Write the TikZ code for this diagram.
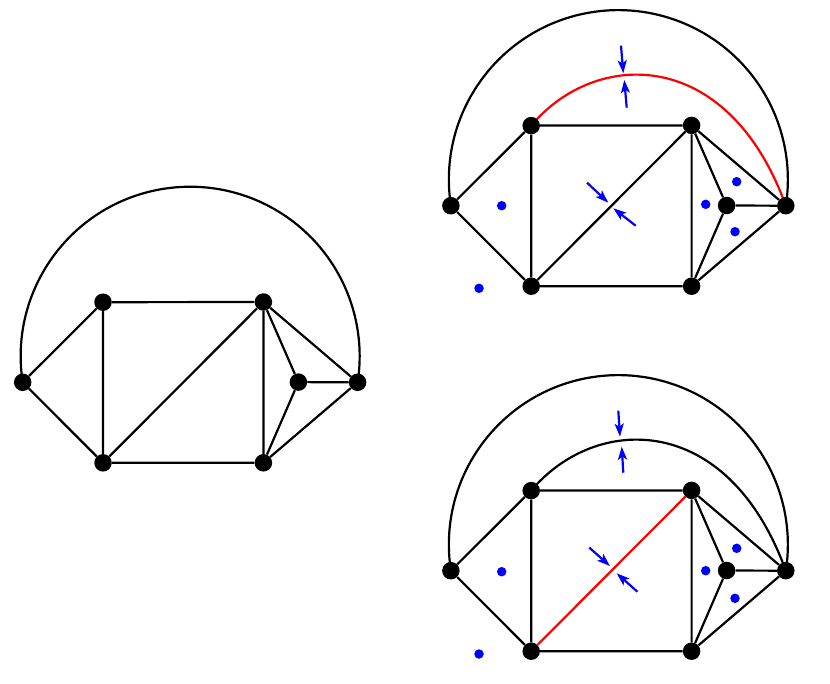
\documentclass[tikz,border=0pt]{standalone}
\usetikzlibrary{arrows.meta,backgrounds}
\tikzset{
  vtx/.style={circle,fill=black,inner sep=0pt,minimum size=17.5pt},
  bdot/.style={circle,fill=blue,inner sep=0pt,minimum size=9.5pt},
  edge/.style={line width=2.2pt,black},
  redge/.style={line width=2.2pt,red},
  barrow/.style={line width=2.2pt,blue,-{Stealth[length=13pt,width=9pt,inset=3pt]}},
}
% #1 suffix, #2 xshift, #3 yshift, #4 style of the diagonal
\newcommand{\mkgraph}[4]{%
  \begin{scope}[shift={(#2,#3)}]
    \node[vtx] (L#1)  at (22.7,382.3) {};
    \node[vtx] (TL#1) at (103,302.2) {};
    \node[vtx] (TR#1) at (263.4,302) {};
    \node[vtx] (BL#1) at (103,462.8) {};
    \node[vtx] (BR#1) at (263.4,462.8) {};
    \node[vtx] (I#1)  at (298.4,382.1) {};
    \node[vtx] (R#1)  at (357.6,382.3) {};
  \end{scope}
  \begin{pgfonlayer}{background}
    \draw[edge] (L#1)--(TL#1) (L#1)--(BL#1) (TL#1)--(TR#1) (TL#1)--(BL#1)
      (BL#1)--(BR#1) (TR#1)--(BR#1) (TR#1)--(I#1) (TR#1)--(R#1)
      (I#1)--(R#1) (I#1)--(BR#1) (BR#1)--(R#1);
    \draw[#4] (BL#1)--(TR#1);
    \draw[edge] (L#1.center) arc[start angle=171.14, end angle=368.86, radius=169.5];
  \end{pgfonlayer}
}
\begin{document}
\begin{tikzpicture}[x=1pt,y=-1pt]
\useasboundingbox (0,0) rectangle (830,683);
\mkgraph{1}{0}{0}{edge}
\mkgraph{2}{428.2}{-176.6}{edge}
\mkgraph{3}{428.2}{188.4}{redge}
\begin{pgfonlayer}{background}
  \draw[redge] (TL2.center) .. controls +(64.3,-76.6) and +(-58.1,-159.8) .. (R2.center);
  \draw[edge] (TL3.center) .. controls +(64.3,-76.6) and +(-58.1,-159.8) .. (R3.center);
\end{pgfonlayer}
% blue arrows, top graph
\coordinate (a1s) at (621,45.7);   \coordinate (a1t) at (623.3,73.3);
\coordinate (a2s) at (626.7,107.7); \coordinate (a2t) at (624.3,80);
\coordinate (a3s) at (587,182.6); \coordinate (a3t) at (608.3,202.7);
\coordinate (a4s) at (635.7,225.7);    \coordinate (a4t) at (613.3,208.3);
\draw[barrow] (a1s) -- (a1t);
\draw[barrow] (a2s) -- (a2t);
\draw[barrow] (a3s) -- (a3t);
\draw[barrow] (a4s) -- (a4t);
% blue arrows, bottom graph
\coordinate (b1s) at (618.3,410.7); \coordinate (b1t) at (620,436.7);
\coordinate (b2s) at (623.3,472.7); \coordinate (b2t) at (621.7,446.7);
\coordinate (b3s) at (589.3,547.6);   \coordinate (b3t) at (610,566);
\coordinate (b4s) at (637.4,591.7);   \coordinate (b4t) at (616.7,573.3);
\draw[barrow] (b1s) -- (b1t);
\draw[barrow] (b2s) -- (b2t);
\draw[barrow] (b3s) -- (b3t);
\draw[barrow] (b4s) -- (b4t);
% blue dots
\node[bdot] (d21) at (501.7,205.7) {};
\node[bdot] (d22) at (479,288.3) {};
\node[bdot] (d23) at (705.7,204.3) {};
\node[bdot] (d24) at (736.7,181.7) {};
\node[bdot] (d25) at (735,231.7) {};
\node[bdot] (d31) at (501.7,571.7) {};
\node[bdot] (d32) at (479,654) {};
\node[bdot] (d33) at (705.7,570.7) {};
\node[bdot] (d34) at (736.7,548.3) {};
\node[bdot] (d35) at (735,598.3) {};
\end{tikzpicture}
\end{document}
